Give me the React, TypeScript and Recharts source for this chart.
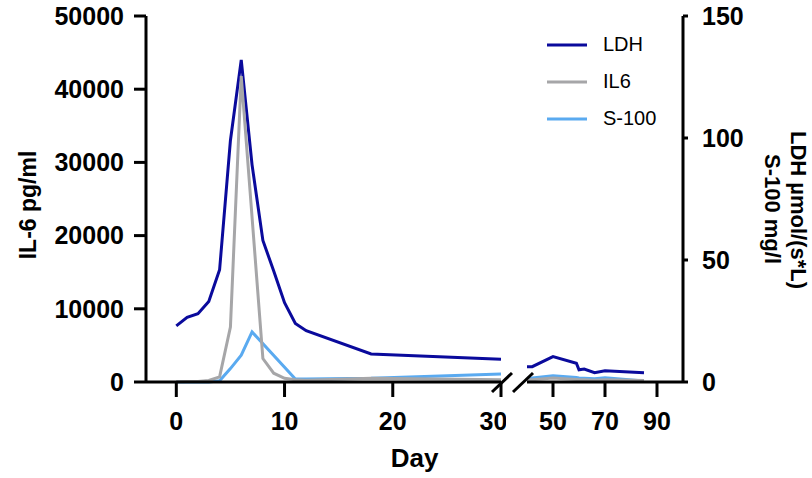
import React from 'react'
import { ComposedChart, Line, XAxis, YAxis, Legend } from 'recharts'

// days before the axis break and after it
const earlyDays = [0, 1, 2, 3, 4, 5, 6, 7, 8, 9, 10, 11, 12, 18, 30]
const earlyLdh = [23, 26.5, 28, 33, 46, 99, 132, 89, 58, 45.5, 32.5, 24, 21, 11.5, 9.3]
const earlyIl6 = [50, 60, 80, 200, 700, 7500, 41800, null, 3200, 1200, 500, 300, 250, 500, 300]
const earlyS100 = [0, 0, 0, 0, 0.5, 5.5, 11, 20.5, null, null, null, 1.2, 1.2, 1.5, 3.3]

const lateDays = [40, 42, 50, 59, 60, 62, 66, 70, 85]
const lateLdh = [6.3, 6.3, 10.4, 7.7, 5, 5.3, 3.8, 4.6, 3.8]
const lateIl6 = [300, 300, 550, 350, 300, 300, 250, 300, 200]
const lateS100 = [1.5, 1.6, 2.6, 1.8, 1.6, 1.5, 1.3, 1.7, 0.4]

const il6Ticks = [0, 10000, 20000, 30000, 40000, 50000]
const rightTicks = [0, 50, 100, 150]
const earlyTicks = [0, 10, 20, 30]
const lateTicks = [50, 70, 90]

const SERIES = [
  { key: 'LDH', color: '#0a0a9c', axis: 'right' },
  { key: 'S-100', color: '#5aaaf0', axis: 'right' },
  { key: 'IL6', color: '#a6a6a8', axis: 'left' },
]
const LEGEND_ORDER = ['LDH', 'IL6', 'S-100']

const early = earlyDays.map((day, i) => ({ day, LDH: earlyLdh[i], IL6: earlyIl6[i], 'S-100': earlyS100[i] }))
const late = lateDays.map((day, i) => ({ day, LDH: lateLdh[i], IL6: lateIl6[i], 'S-100': lateS100[i] }))

const FONT = '"Liberation Sans", Arial, sans-serif'
const H = 478
const TOP = 16
const X_AXIS_H = 96
const PLOT_BOTTOM = H - X_AXIS_H
const SEG1_RIGHT = 501
const SEG2_LEFT = 527
const SEG2_X = 510

const tick = { fontSize: 25, fontWeight: 700, fill: '#000', fontFamily: FONT }
const axisLine = { stroke: '#000', strokeWidth: 3 }

function LegendBox(props: any) {
  const items = [...(props.payload || [])].sort(
    (a: any, b: any) => LEGEND_ORDER.indexOf(a.value) - LEGEND_ORDER.indexOf(b.value))
  return (
    <div>
      {items.map((it: any) => (
        <div key={it.value} style={{ display: 'flex', alignItems: 'center', height: 37, lineHeight: '37px' }}>
          <svg width={40} height={6} style={{ marginRight: 16, flex: 'none' }}>
            <line x1={0} x2={40} y1={3} y2={3} stroke={it.color} strokeWidth={3} />
          </svg>
          <span style={{ fontSize: 20, color: '#000', fontFamily: FONT }}>{it.value}</span>
        </div>
      ))}
    </div>
  )
}

function series() {
  return SERIES.map(s => (
    <Line key={s.key} yAxisId={s.axis} dataKey={s.key} stroke={s.color} strokeWidth={3}
      dot={false} type="linear" connectNulls isAnimationActive={false} />
  ))
}

export default function App() {
  const mid = (TOP + PLOT_BOTTOM) / 2
  return (
    <div style={{ position: 'absolute', left: 0, top: 0, width: 812, height: H, background: '#fff', fontFamily: FONT }}>
      <div style={{ position: 'absolute', left: 0, top: 0 }}>
        <ComposedChart width={SEG1_RIGHT + 5} height={H} data={early}
          margin={{ top: TOP, right: 5, left: 0, bottom: 0 }}>
          <XAxis dataKey="day" type="number" domain={[-2.8, 30]} ticks={earlyTicks} allowDataOverflow
            height={X_AXIS_H} tick={tick} tickSize={15} tickMargin={15} axisLine={axisLine} tickLine={axisLine} />
          <YAxis yAxisId="left" domain={[0, 50000]} ticks={il6Ticks} width={146} tick={tick}
            tickSize={12} tickMargin={10} axisLine={axisLine} tickLine={axisLine} />
          <YAxis yAxisId="right" orientation="right" domain={[0, 150]} hide />
          {series()}
        </ComposedChart>
      </div>
      <div style={{ position: 'absolute', left: SEG2_X, top: 0 }}>
        <ComposedChart width={812 - SEG2_X} height={H} data={late}
          margin={{ top: TOP, right: 0, left: SEG2_LEFT - SEG2_X, bottom: 0 }}>
          <XAxis dataKey="day" type="number" domain={[40, 100]} ticks={lateTicks} allowDataOverflow
            height={X_AXIS_H} tick={tick} tickSize={15} tickMargin={15} axisLine={axisLine} tickLine={axisLine} />
          <YAxis yAxisId="left" domain={[0, 50000]} hide />
          <YAxis yAxisId="right" orientation="right" domain={[0, 150]} ticks={rightTicks} width={129}
            tick={tick} tickSize={5} tickMargin={14} axisLine={axisLine} tickLine={axisLine} />
          {series()}
          <Legend layout="horizontal" verticalAlign="middle" align="center" content={LegendBox}
            wrapperStyle={{ left: 37, top: 26, width: 'auto' }} />
        </ComposedChart>
      </div>
      <svg width={812} height={H} style={{ position: 'absolute', left: 0, top: 0, pointerEvents: 'none' }}
        fontFamily={FONT} fontWeight={700}>
        <text transform={`translate(36,${mid + 6}) rotate(-90)`} textAnchor="middle" fontSize={23}>IL-6 pg/ml</text>
        <text transform={`translate(791,${mid + 11}) rotate(90)`} textAnchor="middle" fontSize={22}>LDH µmol/(s*L)</text>
        <text transform={`translate(765,${mid + 10}) rotate(90)`} textAnchor="middle" fontSize={22}>S-100 mg/l</text>
        <text x={(146 + 683) / 2} y={467} textAnchor="middle" fontSize={26}>Day</text>
        {/* axis break marks */}
        <line x1={SEG1_RIGHT - 9} y1={PLOT_BOTTOM + 10} x2={SEG1_RIGHT + 11} y2={PLOT_BOTTOM - 9} stroke="#000" strokeWidth={3} />
        <line x1={SEG2_LEFT - 14} y1={PLOT_BOTTOM + 10} x2={SEG2_LEFT + 6} y2={PLOT_BOTTOM - 9} stroke="#000" strokeWidth={3} />
      </svg>
    </div>
  )
}
